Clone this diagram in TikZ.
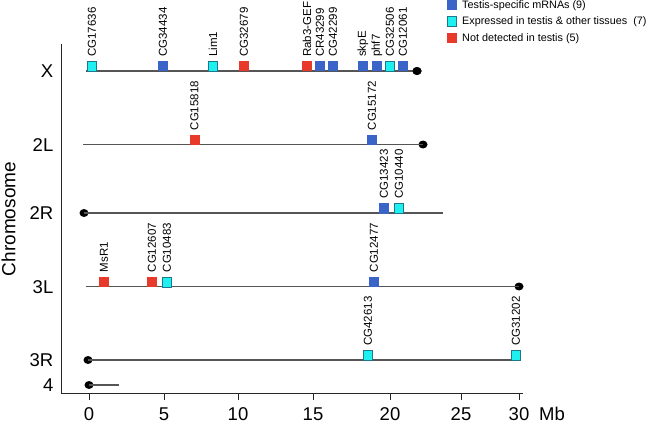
\documentclass[tikz,border=0pt]{standalone}
\usepackage{fontspec}
\setmainfont{Liberation Sans}
\usetikzlibrary{shapes.geometric}
\definecolor{tsblue}{RGB}{58,100,200}
\definecolor{excyan}{RGB}{30,240,240}
\definecolor{exedge}{RGB}{30,120,140}
\definecolor{ndred}{RGB}{232,58,42}
\definecolor{chromgray}{RGB}{85,85,85}
\tikzset{
  mk/.style={minimum width=10pt, minimum height=10.5pt, inner sep=0pt, outer sep=0pt, anchor=south},
  tsb/.style={mk, fill=tsblue},
  exc/.style={mk, fill=excyan, draw=exedge, line width=0.6pt, minimum width=9.4pt, minimum height=9.9pt},
  ndr/.style={mk, fill=ndred},
  glabel/.style={rotate=90, anchor=west, inner sep=0pt, font=\fontsize{11.5}{12}\selectfont},
  chrom/.style={line width=1.6pt, draw=chromgray},
  cen/.style={ellipse, fill=black, minimum width=9pt, minimum height=8pt, inner sep=0pt},
  axisline/.style={line width=1pt, draw=black!85},
  big/.style={font=\fontsize{18.5}{20}\selectfont, inner sep=0pt},
  legtext/.style={anchor=west, inner sep=0pt, font=\fontsize{10.8}{12}\selectfont},
  legbox/.style={minimum width=10pt, minimum height=10pt, inner sep=0pt}
}
\begin{document}
\begin{tikzpicture}[x=1pt,y=-1pt]
\useasboundingbox (0,0) rectangle (650,425);
% axes
\coordinate (axtop) at (61,44);
\coordinate (axorigin) at (61,393);
\coordinate (axright) at (523,393);
\draw[axisline] (axtop) -- (axorigin) -- (axright);
\foreach \v/\x in {0/89,5/164,10/238,15/313,20/390,25/461,30/519}{
  \coordinate (tk\v) at (\x,393);
  \coordinate (tkb\v) at (\x,400);
  \draw[axisline] (tk\v) -- (tkb\v);
  \node[big] (tl\v) at (\x,414) {\v};
}
\node[big, anchor=west] (mb) at (539,414) {Mb};
\node[big, rotate=90, font=\fontsize{19}{20}\selectfont] (ylab) at (8.5,219) {Chromosome};
% row labels
\foreach \n/\y/\t in {rx/71/X, r2l/145/2L, r2r/213/2R, r3l/287/3L, r3r/360/3R, r4/385/4}{
  \node[big, anchor=east] (\n) at (53.5,\y+0.5) {\t};
}
% chromosome lines
\coordinate (xs) at (86,71);
\node[cen] (xc) at (417,71) {};
\draw[chrom] (xs) -- (xc.center);
\coordinate (las) at (83,144.5);
\node[cen] (lac) at (423,144.5) {};
\draw[chrom] (las) -- (lac.center);
\node[cen] (rbc) at (84,213) {};
\coordinate (rbe) at (443,213);
\draw[chrom] (rbc.center) -- (rbe);
\coordinate (tls) at (86,286.5);
\node[cen] (tlc) at (519,286.5) {};
\draw[chrom] (tls) -- (tlc.center);
\node[cen] (trc) at (88,360) {};
\coordinate (tre) at (520,360);
\draw[chrom] (trc.center) -- (tre);
\node[cen] (fc) at (89,385) {};
\coordinate (fe) at (119,385);
\draw[chrom] (fc.center) -- (fe);
% markers
\foreach \Y/\list in {71/{a/92/exc/CG17636, b/163/tsb/CG34434, c/213/exc/Lim1, d/244/ndr/CG32679, e/307/ndr/Rab3-GEF, f/320/tsb/CR43299, g/333/tsb/CG42299, h/363/tsb/skpE, i/377/tsb/phf7, j/390/exc/CG32506, k/403/tsb/CG12061},
  144.5/{l/194.5/ndr/CG15818, m/372/tsb/CG15172},
  213/{n/384/tsb/CG13423, o/399/exc/CG10440},
  286.5/{p/104/ndr/MsR1, q/152/ndr/CG12607, r/167/exc/CG10483, s/374/tsb/CG12477},
  360/{t/368/exc/CG42613, u/516/exc/CG31202}}{
  \foreach \n/\x/\s/\t in \list {
    \node[\s] (m\n) at (\x,\Y+0.5) {};
    \node[glabel] (l\n) at (\x,\Y-14) {\t};
  }
}
% redraw end dots on top
\node[cen] (xc2) at (xc) {};
% legend
\node[legbox, fill=tsblue] (lg1) at (452,5) {};
\node[legbox, fill=excyan, draw=exedge, line width=0.6pt, minimum width=9.4pt, minimum height=9.4pt] (lg2) at (452,21.5) {};
\node[legbox, fill=ndred] (lg3) at (452,38) {};
\node[legtext] (lt1) at (462,5.5) {Testis-specific mRNAs (9)};
\node[legtext] (lt2) at (462,22) {Expressed in testis \& other tissues\ \ (7)};
\node[legtext] (lt3) at (462,38.5) {Not detected in testis (5)};
\end{tikzpicture}
\end{document}
